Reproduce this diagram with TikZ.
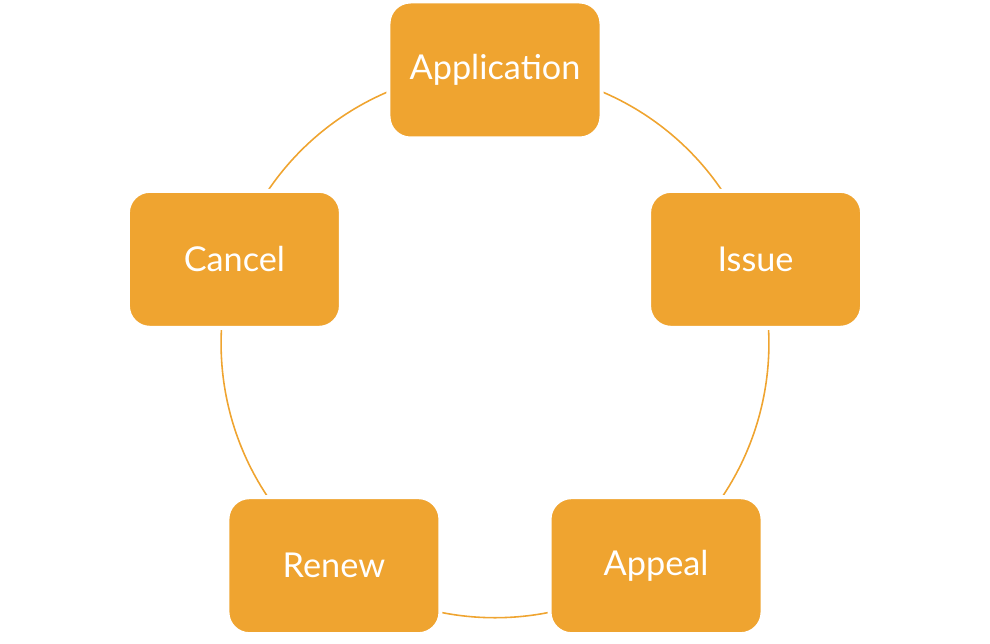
\documentclass[tikz,border=0pt]{standalone}
\usepackage{fontspec}
\setmainfont{Lato}
\usepackage{xcolor}
\usetikzlibrary{backgrounds}
\definecolor{boxorange}{RGB}{239,164,48}

\begin{document}
\begin{tikzpicture}[stage/.style={rectangle, rounded corners=0.44cm, fill=boxorange,
    draw=white, line width=0.08cm, minimum width=4.26cm, minimum height=2.74cm,
    text=white, font=\fontsize{19.5}{23}\selectfont},
  cyc/.style={draw=boxorange, line width=0.9pt, looseness=0.94}]
\useasboundingbox (-9.9,-6.0) rectangle (9.9,6.88);
  \node[stage]		   (App) at (90:5.48)     {Application};
  \node[stage]		   (Iss) at (18:5.48)     {Issue};
  \node[stage]		   (Apl) at (-54:5.48)    {Appeal};
  \node[stage]		   (Ren) at (-126:5.48)   {Renew};
  \node[stage]		   (Can) at (162:5.48)    {Cancel};

  \begin{scope}[on background layer]
  \path[cyc]
		(App.center) edge[bend left=36]  (Iss.center)
        (Iss.center) edge[bend left=36]  (Apl.center)
        (Apl.center) edge[bend left=36]  (Ren.center)
        (Ren.center) edge[bend left=36]  (Can.center)
        (Can.center) edge[bend left=36]  (App.center);
  \end{scope}
    \end{tikzpicture}
\end{document}
